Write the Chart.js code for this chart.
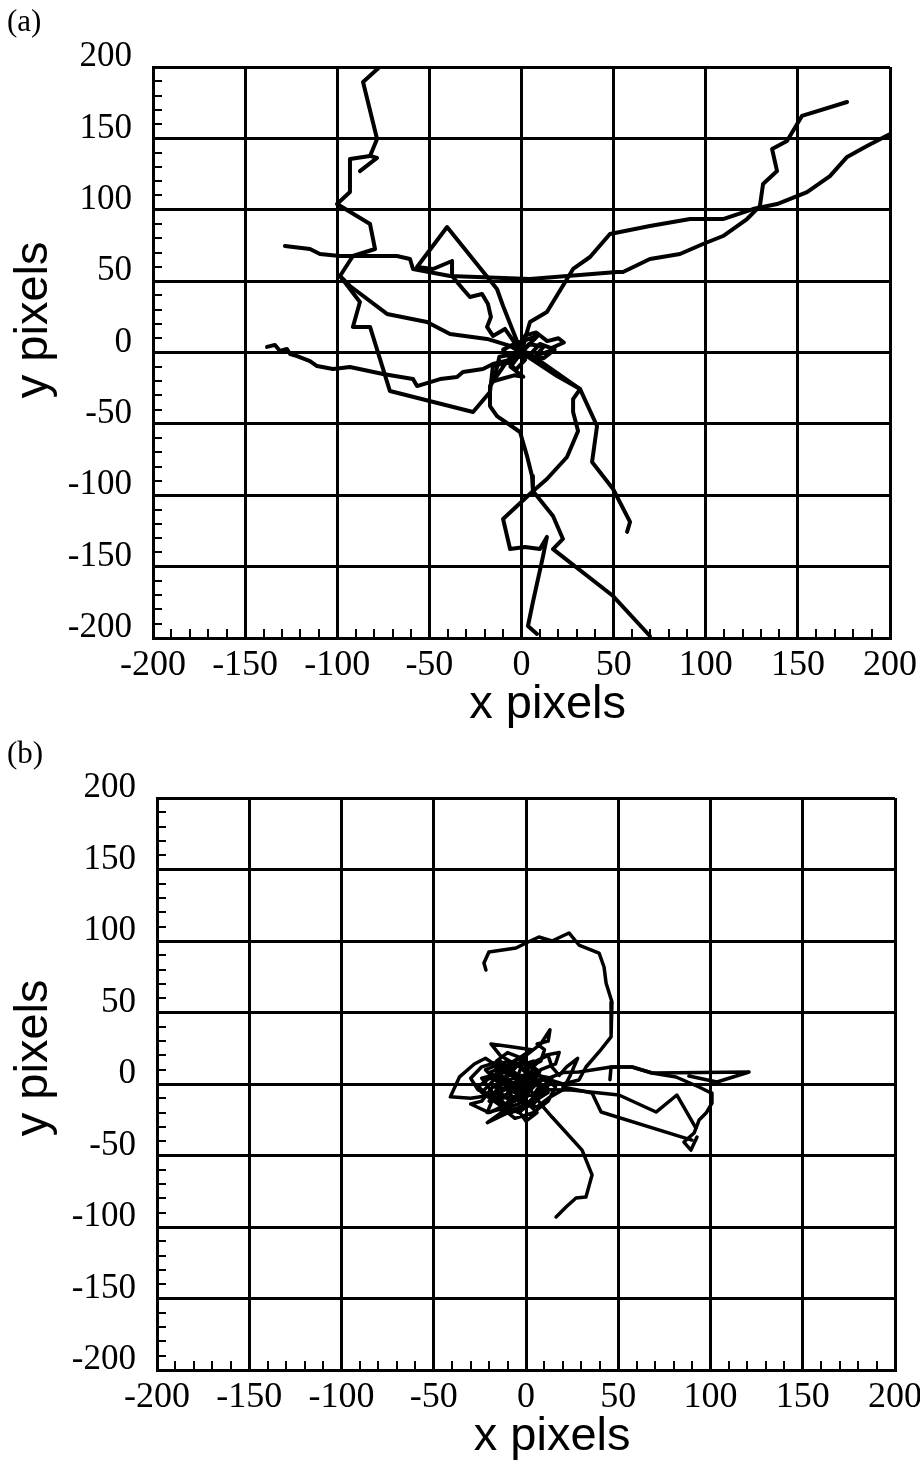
<!DOCTYPE html>
<html>
<head>
<meta charset="utf-8">
<script src="https://cdn.jsdelivr.net/npm/chart.js@4.4.0/dist/chart.umd.min.js"></script>
<style>
  body { margin: 0; background: #fff; }
  #page { position: relative; width: 920px; height: 1463px; overflow: hidden; }
  .panel { position: absolute; left: 0; }
  .tag { position: absolute; left: 7px; font: 31px/31px "Liberation Serif", "Times New Roman", serif; color: #000; }
</style>
</head>
<body>
<div id="page">
  <canvas id="chartA" class="panel" style="top:0" width="920" height="731"></canvas>
  <canvas id="chartB" class="panel" style="top:731px" width="920" height="732"></canvas>
  <div class="tag" style="top:5px">(a)</div>
  <div class="tag" style="top:737px">(b)</div>
</div>
<script>
// axis ticks (major, labelled)
const tickValues = [-200, -150, -100, -50, 0, 50, 100, 150, 200];

// panel (a) - cell tracks, [x, y] in pixels
const a1 = [[-77,200],[-86,189.5],[-78.4,149.6],[-82.2,137.7],[-93.1,135.5],[-93.1,112.4],[-100.1,104],
  [-82.2,90],[-79.5,72.5],[-91.5,67.6],[-98.5,53.6],[-93.1,44.5],[-87.7,35.4],[-91.5,17.9],[-82.2,17.9],
  [-71.4,-27],[-26.3,-41.7],[-17.1,-27.7],[-15.5,-9.5],[-4.6,-6],[0,0]];
const a1hook = [[-82.2,137.7],[-78.4,136.3],[-87.7,127.1]];
const a2 = [[-98.5,53.6],[-93.1,46.6],[-73,27],[-51.3,21.4],[-38.8,13],[-18.7,9.5],[-6.2,4.6],[0,0]];
const a3 = [[-128.4,74.6],[-114.8,72.5],[-109.4,69],[-98.5,67.6],[-67.6,67.6],[-60.5,65.5],[-58.9,58.5],
  [-38.8,53.6],[4.6,51.5],[51.8,56.4],[55.1,56.4],[69.7,65.5],[86,69],[98.5,76],[109.4,81.6],[122.4,93.5],
  [129.4,102.6],[131.1,118],[138.7,127.1],[136,142.6],[144.1,148.2],[152.2,165.7],[176.7,175.5]];
const a4 = [[0,0],[3,14.4],[4.6,21.4],[13.8,28.4],[28,58.5],[37.2,66.9],[48,83],[69.7,88.6],[91.5,93.5],
  [109.4,93.5],[125.6,100.5],[138.7,104],[155,112.4],[167.4,123.6],[176.7,137],[187.5,144.7],[200,153.1]];
const a5 = [[0,0],[-10,32.6],[-13.3,44.5],[-40.4,87.9],[-56.7,59.9],[-48,58.5],[-37.7,64.1],[-37.7,53.6],
  [-31.8,44.5],[-28,38.9],[-21.4,41],[-18.2,34],[-16.6,24.9],[-18.7,17.9],[-15.5,11.6],[-9,16.5],[0,0]];
const a6 = [[-138.1,3.9],[-133.8,5.3],[-131.1,1.1],[-127.3,2.5],[-125.6,-1.1],[-121.8,-2.5],[-114.8,-6],
  [-111,-9.5],[-102.3,-11.6],[-93.1,-10.2],[-75.2,-15.1],[-58.9,-18.6],[-56.7,-23.5],[-44.2,-18.6],
  [-35,-17.2],[-31.8,-13.7],[-20.9,-11.6],[-15.5,-8.1],[-4.6,-4.6],[0,0]];
const a7 = [[0,0],[-9,-8.1],[-17.1,-23.5],[-17.1,-37.5],[-13.3,-44.5],[-0.8,-55.7],[3,-72.5],[5.7,-86.5],
  [6.2,-97],[17.1,-114.5],[22.5,-130.6],[17.1,-137.7],[49.7,-170.6],[69.7,-198.6]];
const a8 = [[0,0],[6.2,-2.5],[31.8,-25.6],[28,-32.6],[28,-41.7],[30.7,-55],[24.7,-73.2],[13.8,-88.6],
  [5.7,-97.7],[-10,-116.6],[-6.2,-137.7],[1.9,-136.3],[10,-137.7],[13.8,-129.2],[11.7,-142.6],
  [6.2,-174.8],[3.5,-191.6],[8.4,-197.2]];
const a9 = [[0,0],[19.3,-16.5],[31.8,-25.6],[41,-51.5],[38.3,-76.7],[49.7,-95.6],[58.9,-118.7],[57.3,-125.7]];
const a10 = [[0,0],[2,12],[8,14],[14,8],[20,10],[23,7],[16,3],[10,6],[5,-1],[-4,3],[0,0],
  [-12,-3],[-15,-20],[-4,-16],[1,-17],[-6,-10],[0,0]];
const a11 = [[0,0],[4,6],[12,4],[8,-2],[18,2],[12,-4],[4,-2],[-6,-4],[-10,2],[-4,6],[3,9],[9,12],[0,0],
  [-8,-6],[-3,-12],[2,-5],[0,0]];

// panel (b) - cell tracks, [x, y] in pixels
const b1 = [[-21.7,79.7],[-22.8,84.6],[-20.1,92.3],[-5.4,95.1],[0,98.6],[7,102.8],[14.1,100],[23.3,105.6],
  [28.7,97.2],[39.6,91.6],[42.3,81.8],[43.4,70.6],[46.6,57.3],[46.1,44.8],[46.1,32.9],[39.6,22.4],
  [32.5,11.9],[28.7,2.8],[20,0],[10,4],[0,0]];
const b2 = [[0,0],[12,4],[20,8],[28.7,8.4],[46.1,11.9],[57.5,11.9],[68.3,7.7],[120.9,8.4],[103.5,1.4],[88.3,5.6]];
const b3 = [[45.5,3],[46.1,11.9],[57.5,11.9],[68.3,7.7],[81.3,4.9],[93.8,-2.1],[100.3,-6.3],[100.8,-13.3],
  [97.6,-20.3],[93.8,-25.2],[91.1,-34.3],[85.6,-40.6],[89.4,-46.2],[92.7,-37.1]];
const b4 = [[10,-4],[24.4,-4.2],[50.4,-7.7],[70.5,-19.6],[81.8,-7.7],[92.1,-30.8]];
const b5 = [[20,-2],[35.8,-6.3],[40.7,-19.6],[84.6,-37.1],[90,-39.2]];
const b6 = [[0,0],[8,-14],[14.1,-23.1],[30.4,-46.2],[35.8,-63.6],[32.5,-79],[27.1,-79.7],[21.7,-86],[16.3,-93]];
const b7 = [[0,0],[-8,6],[-15,12],[-22,18],[-28,14],[-36,5],[-41,-9],[-30,-10],[-20,-8],[-12,-4],[-5,2],
  [2,8],[-6,14],[-14,20],[-19,28],[-8,26],[3,24],[-5,17],[-12,10],[-18,2],[-24,-6],[-15,-14],[-6,-18],
  [2,-12],[8,-4],[4,4],[-2,10],[8,16],[10,24],[6,28],[12,30],[13,38],[8,28],[0,20],[-10,5],[-16,-4],
  [-21,-20],[-9,-16],[-21,-27],[-5,-17],[0,-26],[6,-20],[-2,-10],[-10,-2],[-16,8],[-8,12],[2,14],
  [12,20],[14,12],[18,6],[22,12],[28,18],[24,6],[20,-4],[12,-10],[6,-16],[-4,-12],[-10,-6],[-4,2],
  [4,-2],[10,4],[16,-2],[12,-12],[4,-20],[-6,-24],[-12,-18],[-18,-10],[-26,-4],[-30,4],[-24,12],
  [-14,16],[-6,8],[0,0]];
const b8 = [[0,0],[6,10],[-4,18],[-12,12],[-20,8],[-10,0],[-2,-8],[-14,-10],[-8,-20],[4,-14],[10,-6],
  [14,4],[6,6],[-6,-4],[-18,-2],[-24,-12],[-30,-14],[-20,-20],[-10,-14],[2,-4],[8,10],[16,14],[18,22],
  [10,20],[4,12],[0,0]];
const b9 = [[0,0],[-10,10],[-18,14],[-12,4],[-6,12],[4,16],[-2,4],[-14,-6],[-8,-12],[2,-8],[-4,0],[-20,4],
  [-26,-2],[-16,-12],[-4,-20],[6,-10],[12,0],[6,8],[-2,18],[-10,22],[-16,16],[-8,8],[0,-4],[-10,-16],
  [-18,-8],[-12,2],[0,6],[8,0],[4,-8],[-6,-6],[0,0]];
const b10 = [[0,0],[-12,-4],[-20,-12],[-8,-6],[-16,6],[-6,0],[-2,14],[-10,16],[-22,10],[-16,2],[-4,-4],
  [6,2],[12,-6],[2,-14],[-8,-10],[-14,-18],[-4,-14],[4,-2],[-2,6],[-12,8],[-24,4],[-18,-6],[-6,-12],[0,0]];

const tracksA = [a1, a1hook, a2, a3, a4, a5, a6, a7, a8, a9, a10, a11];
const tracksB = [b1, b2, b3, b4, b5, b6, b7, b8, b9, b10];

// small inward ticks every 10 px between the labelled ones
const minorValues = [];
tickValues.slice(0, -1).forEach(v => { [10, 20, 30, 40].forEach(d => minorValues.push(v + d)); });

const minorTicks = {
  id: 'minorTicks',
  afterDraw(chart) {
    const {ctx, chartArea, scales} = chart;
    ctx.save();
    ctx.strokeStyle = '#000';
    ctx.lineWidth = 2;
    ctx.beginPath();
    minorValues.forEach(v => {
      const y = Math.round(scales.y.getPixelForValue(v));
      ctx.moveTo(chartArea.left, y);
      ctx.lineTo(chartArea.left + 9, y);
      const x = Math.round(scales.x.getPixelForValue(v));
      ctx.moveTo(x, chartArea.bottom);
      ctx.lineTo(x, chartArea.bottom - 9);
    });
    ctx.stroke();
    ctx.restore();
  }
};

const serif = '"Liberation Serif", "Times New Roman", serif';
const sans = '"Liberation Sans", Arial, Helvetica, sans-serif';

function makeChart(id, tracks, cfg) {
  return new Chart(document.getElementById(id), {
    type: 'scatter',
    data: {
      datasets: tracks.map(t => ({
        data: t.map(p => ({x: p[0], y: p[1]})),
        showLine: true,
        borderColor: '#000',
        borderWidth: cfg.lineWidth,
        pointRadius: 0,
        tension: 0,
        borderJoinStyle: 'round',
        borderCapStyle: 'round'
      }))
    },
    options: {
      responsive: false,
      animation: false,
      layout: {padding: {top: 67, right: cfg.right, left: 0, bottom: 0}},
      plugins: {legend: {display: false}, tooltip: {enabled: false}},
      scales: {
        x: {
          type: 'linear', min: -200, max: 200,
          afterBuildTicks: s => { s.ticks = tickValues.map(v => ({value: v})); },
          afterFit: s => { s.height = cfg.xHeight; s.paddingLeft = 0; s.paddingRight = 0; },
          grid: {color: '#000', lineWidth: 3, drawTicks: false},
          border: {color: '#000', width: 3},
          ticks: {color: '#000', font: {family: serif, size: 36}, padding: 6, maxRotation: 0, autoSkip: false},
          title: {display: true, text: '    x pixels', color: '#000',
                  font: {family: sans, size: 47, lineHeight: 1.1}, padding: {top: 0, bottom: 0}}
        },
        y: {
          type: 'linear', min: -200, max: 200,
          afterBuildTicks: s => { s.ticks = tickValues.map(v => ({value: v})); },
          afterFit: s => { s.width = cfg.yWidth; s.paddingTop = 0; s.paddingBottom = 0; },
          grid: {color: '#000', lineWidth: 3, drawTicks: false},
          border: {color: '#000', width: 3},
          ticks: {color: '#000', font: {family: serif, size: 35}, padding: 21, labelOffset: -10, autoSkip: false},
          title: {display: true, text: cfg.yTitle, color: '#000',
                  font: {family: sans, size: 47, lineHeight: 1.1}, padding: {top: 8, bottom: 0}}
        }
      }
    },
    plugins: [minorTicks]
  });
}

makeChart('chartA', tracksA, {lineWidth: 4, right: 30, xHeight: 93, yWidth: 153, yTitle: '     y pixels'});
makeChart('chartB', tracksB, {lineWidth: 3.5, right: 25, xHeight: 93, yWidth: 157, yTitle: '    y pixels'});
</script>
</body>
</html>
